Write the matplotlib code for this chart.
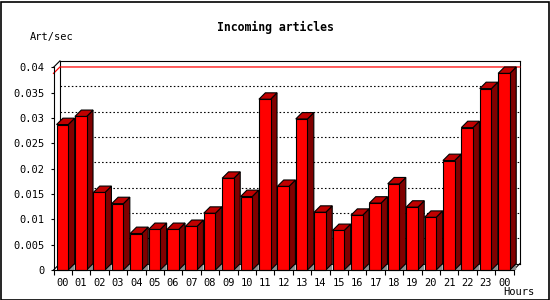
import matplotlib
matplotlib.use("Agg")
import matplotlib.pyplot as plt
from matplotlib.patches import Polygon, Rectangle

hours = ["00", "01", "02", "03", "04", "05", "06", "07", "08", "09", "10", "11",
         "12", "13", "14", "15", "16", "17", "18", "19", "20", "21", "22", "23", "00"]
values = [0.0287, 0.0303, 0.0153, 0.0131, 0.0072, 0.0080, 0.0080, 0.0086, 0.0112,
          0.0181, 0.0145, 0.0337, 0.0165, 0.0298, 0.0114, 0.0078, 0.0108, 0.0132,
          0.0170, 0.0124, 0.0104, 0.0216, 0.0281, 0.0358, 0.0388]
y_ticks = [0, 0.005, 0.01, 0.015, 0.02, 0.025, 0.03, 0.035, 0.04]
y_labels = ["0", "0.005", "0.01", "0.015", "0.02", "0.025", "0.03", "0.035", "0.04"]

FRONT = "#ff0000"
TOP = "#c00000"
SIDE = "#800000"
FLOOR = "#909090"
MONO = "DejaVu Sans Mono"

W, H = 550, 300
fig = plt.figure(figsize=(W / 100, H / 100), dpi=100)

# front plot area in pixels
left_px, right_px, top_px, bot_px = 53.5, 513.5, 67.3, 270
ax = fig.add_axes([left_px / W, 1 - bot_px / H, (right_px - left_px) / W, (bot_px - top_px) / H])
n = len(values)
ymax = y_ticks[-1]
ax.set_xlim(0, n)
ax.set_ylim(0, ymax)

# 3D depth offset converted to data units
depth_px = 6.4
dx = depth_px / ((right_px - left_px) / n)
dy = depth_px / ((bot_px - top_px) / ymax)

lw = 0.8
# back plane frame and left wall
frame = [
    ([0, dx], [ymax, ymax + dy]),
    ([dx, dx], [dy, ymax + dy]),
    ([dx, n + dx], [ymax + dy, ymax + dy]),
    ([n + dx, n + dx], [dy, ymax + dy]),
    ([0, dx], [0, dy]),
    ([dx, n + dx], [dy, dy]),
    ([n, n + dx], [0, dy]),
]
for xs, ys in frame:
    ax.plot(xs, ys, color="black", lw=lw, clip_on=False, zorder=1)

# dotted grid lines on the back plane
for v in y_ticks[1:-1]:
    ax.plot([dx, n + dx], [v + dy, v + dy], color="black", lw=0.8,
            linestyle=(0, (1.4, 2.0)), clip_on=False, zorder=1)

# max line
vmax = max(values)
ax.plot([0, dx, n + dx], [vmax, vmax + dy, vmax + dy], color="red", lw=0.9,
        clip_on=False, zorder=1.5)

# bars
off, bw = 0.165, 0.635
for i, v in enumerate(values):
    x0 = i + off
    x1 = x0 + bw
    ax.add_patch(Polygon([(x1, 0), (x1 + dx, dy), (x1 + dx, 0)], closed=True,
                         facecolor=FLOOR, edgecolor="none", zorder=2, clip_on=False))
    ax.add_patch(Polygon([(x1, 0), (x1 + dx, dy), (x1 + dx, v + dy), (x1, v)], closed=True,
                         facecolor=SIDE, edgecolor="black", lw=lw, zorder=2, clip_on=False))
    ax.add_patch(Polygon([(x0, v), (x0 + dx, v + dy), (x1 + dx, v + dy), (x1, v)], closed=True,
                         facecolor=TOP, edgecolor="black", lw=lw, zorder=2, clip_on=False))
    ax.add_patch(Rectangle((x0, 0), bw, v, facecolor=FRONT, edgecolor="black", lw=lw,
                           zorder=2.5, clip_on=False))

for s in ["top", "right"]:
    ax.spines[s].set_visible(False)
for s in ["left", "bottom"]:
    ax.spines[s].set_linewidth(lw)
    ax.spines[s].set_zorder(3)

ax.set_yticks(y_ticks)
ax.set_yticklabels(y_labels, fontsize=7.5, family=MONO)
ax.tick_params(axis="y", direction="out", length=2.5, width=lw, pad=4)

ax.set_xticks(range(n + 1))
ax.set_xticklabels([])
ax.set_xticks([i + 0.5 for i in range(n)], minor=True)
ax.set_xticklabels(hours, minor=True, fontsize=7.5, family=MONO)
ax.tick_params(axis="x", which="major", direction="out", length=3.5, width=lw)
ax.tick_params(axis="x", which="minor", length=0, pad=6)

fig.text(275 / W, 1 - 27 / H, "Incoming articles", ha="center", va="center",
         fontsize=8.3, fontweight="bold", family=MONO)
fig.text(30 / W, 1 - 37 / H, "Art/sec", ha="left", va="center", fontsize=7.5, family=MONO)
fig.text(503 / W, 1 - 292 / H, "Hours", ha="left", va="center", fontsize=7.5, family=MONO)

fig.patches.append(Rectangle((0.5 / W, 0.5 / H), 1 - 2 / W, 1 - 2 / H, transform=fig.transFigure,
                             fill=False, edgecolor="black", lw=1.2, figure=fig))

fig.savefig("out.png", dpi=100)
